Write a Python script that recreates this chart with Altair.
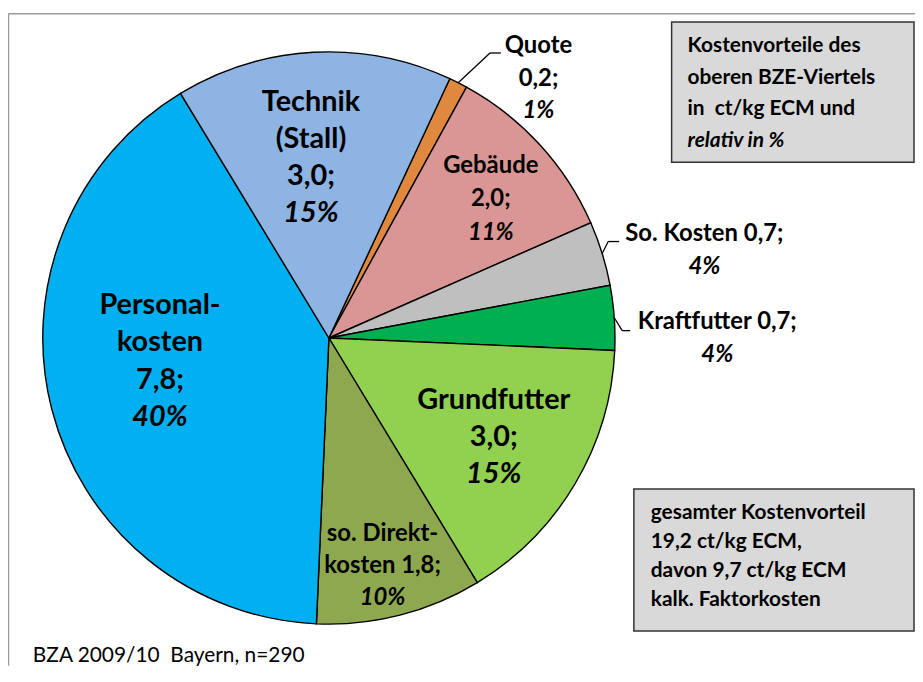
import math
import altair as alt
import pandas as pd

# ---------------- data ----------------
categories = ["Quote", "Gebäude", "So. Kosten", "Kraftfutter", "Grundfutter",
              "so. Direktkosten", "Personalkosten", "Technik (Stall)"]
values = [0.2, 2.0, 0.7, 0.7, 3.0, 1.8, 7.8, 3.0]
percents = [1, 11, 4, 4, 15, 10, 40, 15]
colors = ["#E0883E", "#D99694", "#BFBFBF", "#00B050", "#92D050",
          "#8EA850", "#00B0F0", "#8EB4E3"]
name_lines = [["Quote"], ["Gebäude"], ["So. Kosten"], ["Kraftfutter"], ["Grundfutter"],
              ["so. Direkt-", "kosten"], ["Personal-", "kosten"], ["Technik", "(Stall)"]]
value_inline = [False, False, True, True, False, True, False, False]

info_lines = ["Kostenvorteile des", "oberen BZE-Viertels", "in\u00a0 ct/kg ECM und"]
info_italic = "relativ in %"
total_lines = ["gesamter Kostenvorteil", "19,2 ct/kg ECM,", "davon 9,7 ct/kg ECM",
               "kalk. Faktorkosten"]
source_text = "BZA 2009/10\u00a0 Bayern, n=290"

# ---------------- layout ----------------
W, H = 913, 660
CX, CY, R = 323, 330, 288
START = math.radians(25)
FONT = "Lato"
# per slice label: radius, dx, dy, font size, line height
label_layout = [
    (327, 63, 31, 24, 33),
    (214, 5, 5, 24, 33.5),
    (387, 8, 26, 24, 34),
    (390, 2, 28, 24, 33),
    (194, -1, 1, 29, 37.5),
    (236, -5, 1, 24, 32.5),
    (170, -5, -19, 29, 37.7),
    (182, -8, 0, 29, 37.3),
]
# leader elbows (offset from slice edge): elbow dx, dy, end dx
leaders = {0: (32, -30, 11), 2: (6, -12, 11), 3: (8, 13, 8)}

total = sum(values)
df = pd.DataFrame({"cat": categories, "value": values, "idx": list(range(len(values)))})
one = pd.DataFrame({"k": [0]})  # single row for annotation marks
theta_scale = alt.Scale(domain=[0, total], range=[START, START + 2 * math.pi])

base = alt.Chart(df).transform_window(
    cum="sum(value)", sort=[alt.SortField("idx")], frame=[None, 0]
).transform_calculate(
    ang=f"{START} + (datum.cum - datum.value / 2) / {total} * 2 * PI"
)

pie = alt.Chart(df).mark_arc(outerRadius=R, stroke="black", strokeWidth=1.4).encode(
    theta=alt.Theta("value:Q", stack=True, scale=theta_scale),
    color=alt.Color("cat:N", scale=alt.Scale(domain=categories, range=colors), legend=None),
    order=alt.Order("idx:Q"),
    x=alt.value(CX), y=alt.value(CY),
)

layers = [pie]

# slice labels, placed along each slice's mid angle
for i, cat in enumerate(categories):
    r, ddx, ddy, fs, lh = label_layout[i]
    val = f"{values[i]:.1f}".replace(".", ",") + ";"
    lines = list(name_lines[i])
    if value_inline[i]:
        lines[-1] = lines[-1] + " " + val
    else:
        lines.append(val)
    all_lines = [(t, "normal") for t in lines] + [(f"{percents[i]}%", "italic")]
    n = len(all_lines)
    for j, (txt, style) in enumerate(all_lines):
        oy = ddy + (j - (n - 1) / 2) * lh
        layers.append(
            base.transform_filter(alt.datum.idx == i).transform_calculate(
                lx=f"round({CX} + {r} * sin(datum.ang) + {ddx})",
                ly=f"round({CY} - {r} * cos(datum.ang) + {oy})",
            ).mark_text(
                font=FONT, fontSize=fs, fontWeight=700, fontStyle=style,
                align="center", baseline="middle", color="black",
            ).encode(
                x=alt.X("lx:Q", scale=None), y=alt.Y("ly:Q", scale=None),
                text=alt.value(txt),
            )
        )

# leader lines computed from slice mid angles
segs = []
cum = 0.0
for i, v in enumerate(values):
    mid = cum + v / 2
    cum += v
    if i in leaders:
        ang = START + mid / total * 2 * math.pi
        sx = CX + R * math.sin(ang)
        sy = CY - R * math.cos(ang)
        ex, ey, ed = leaders[i]
        segs.append({"x": sx, "y": sy, "x2": sx + ex, "y2": sy + ey})
        segs.append({"x": sx + ex, "y": sy + ey, "x2": sx + ex + ed, "y2": sy + ey})
seg_df = pd.DataFrame(segs)
layers.append(
    alt.Chart(seg_df).mark_rule(color="black", strokeWidth=1.3).encode(
        x=alt.X("x:Q", scale=None), y=alt.Y("y:Q", scale=None),
        x2="x2:Q", y2="y2:Q",
    )
)

# frame
layers.append(alt.Chart(one).mark_rule(color="#9A9A9A", strokeWidth=1.5).encode(
    x=alt.value(0.5), x2=alt.value(W), y=alt.value(3.5)))
layers.append(alt.Chart(one).mark_rule(color="#9A9A9A", strokeWidth=1.5).encode(
    x=alt.value(0.5), y=alt.value(3.5), y2=alt.value(H)))

# boxes
layers.append(alt.Chart(one).mark_rect(fill="#D9D9D9", stroke="#333333", strokeWidth=1.5).encode(
    x=alt.value(668), x2=alt.value(912), y=alt.value(12), y2=alt.value(153)))
layers.append(alt.Chart(one).mark_rect(fill="#D9D9D9", stroke="#333333", strokeWidth=1.5).encode(
    x=alt.value(630), x2=alt.value(912), y=alt.value(482), y2=alt.value(625)))

for j, txt in enumerate(info_lines + [info_italic]):
    layers.append(alt.Chart(one).mark_text(
        font=FONT, fontSize=21, fontWeight=700,
        fontStyle="italic" if txt == info_italic else "normal",
        align="left", baseline="middle", color="black",
    ).encode(x=alt.value(684), y=alt.value(36 + j * 32), text=alt.value(txt)))

for j, txt in enumerate(total_lines):
    layers.append(alt.Chart(one).mark_text(
        font=FONT, fontSize=21, fontWeight=700,
        align="left", baseline="middle", color="black",
    ).encode(x=alt.value(647), y=alt.value(506 + j * 29.3), text=alt.value(txt)))

layers.append(alt.Chart(one).mark_text(
    font=FONT, fontSize=21, fontWeight=400, align="left", baseline="middle", color="black",
).encode(x=alt.value(25), y=alt.value(650), text=alt.value(source_text)))

chart = alt.layer(*layers).properties(
    width=W, height=H, autosize=alt.AutoSizeParams(type="none"), padding=0,
    background="white",
).configure_view(stroke=None)

chart.save("out.html", embed_options={"renderer": "svg", "actions": False})
